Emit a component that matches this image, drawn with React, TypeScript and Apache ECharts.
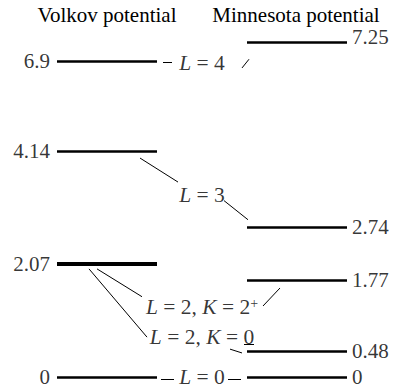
import React, { useEffect, useRef } from 'react';
import * as echarts from 'echarts';

// Energy levels (MeV) for each potential
const volkovLevels = [0, 2.07, 4.14, 6.9];
const volkovWidths = [2.5, 4, 2.5, 2.5];
const minnesotaLevels = [0, 0.48, 1.77, 2.74, 7.25];
const minnesotaWidths = [2.5, 2.5, 2.5, 2.5, 2.5];
const columnTitles = ['Volkov potential', 'Minnesota potential'];

// State labels placed between the two columns
const stateNames = [
  '{i|L} = 0',
  '{i|L} = 2, {i|K} = 0',
  '{i|L} = 2, {i|K} = 2{sup|+}',
  '{i|L} = 3',
  '{i|L} = 4',
];
const stateEnergies = [0, 0.74, 1.28, 3.33, 6.87];

// Thin connectors between levels and state labels: [x1, e1, x2, e2]
const connectors: number[][] = [
  [1.06, 6.89, 1.15, 6.89],
  [1.85, 6.78, 1.92, 6.94],
  [0.83, 4.01, 1.21, 3.57],
  [1.67, 3.23, 1.91, 2.88],
  [0.4, 1.98, 0.85, 1.47],
  [2.06, 1.3, 2.23, 1.63],
  [0.32, 1.98, 0.9, 0.73],
  [1.73, 0.51, 1.85, 0.44],
  [1.87, 0.6, 1.97, 0.6],
  [1.04, -0.05, 1.17, -0.05],
  [1.71, -0.05, 1.84, -0.05],
];

const LEFT_X = [0, 1];
const RIGHT_X = [1.9, 2.9];
const MID_X = 1.45;
const FONT = "'Liberation Serif', 'Times New Roman', serif";
const FS = 21;
const MID_FS = 21.5;

export default function App() {
  const ref = useRef<HTMLDivElement>(null);

  useEffect(() => {
    document.body.style.margin = '0';
    if (!ref.current) return;
    const chart = echarts.init(ref.current, undefined, { renderer: 'svg' });

    const levelData = [
      ...volkovLevels.map((v, i) => ({
        coords: [[LEFT_X[0], v], [LEFT_X[1], v]],
        lineStyle: { width: volkovWidths[i] },
      })),
      ...minnesotaLevels.map((v, i) => ({
        coords: [[RIGHT_X[0], v], [RIGHT_X[1], v]],
        lineStyle: { width: minnesotaWidths[i] },
      })),
    ];

    const titleText = (text: string, x: number) => ({
      type: 'text',
      x,
      y: 15,
      style: {
        text,
        fontSize: FS,
        fontFamily: FONT,
        fill: '#000',
        align: 'center',
        verticalAlign: 'middle',
        textAlign: 'center',
        textVerticalAlign: 'middle',
      },
    });

    chart.setOption({
      animation: false,
      backgroundColor: '#ffffff',
      textStyle: { fontFamily: FONT },
      grid: { left: 57, right: 46, top: 23.2, bottom: 4.1 },
      xAxis: {
        type: 'value',
        min: 0,
        max: 2.9,
        show: false,
      },
      yAxis: {
        type: 'value',
        min: -0.2,
        max: 7.6,
        show: false,
        splitLine: { show: false },
        breaks: [{ start: 5, end: 6.12, gap: 0 }],
        breakArea: {
          show: false,
          itemStyle: { opacity: 0, borderWidth: 0 },
          zigzagAmplitude: 0,
        },
      },
      graphic: [titleText(columnTitles[0], 107), titleText(columnTitles[1], 296)],
      series: [
        {
          type: 'lines',
          coordinateSystem: 'cartesian2d',
          silent: true,
          lineStyle: { color: '#000', opacity: 1, width: 2.5, cap: 'butt' },
          data: levelData,
        },
        {
          type: 'lines',
          coordinateSystem: 'cartesian2d',
          silent: true,
          lineStyle: { color: '#000', opacity: 1, width: 1 },
          data: connectors.map((c) => ({ coords: [[c[0], c[1]], [c[2], c[3]]] })),
        },
        {
          type: 'scatter',
          symbolSize: 0,
          silent: true,
          clip: false,
          label: {
            show: true,
            position: 'left',
            distance: 7,
            color: '#000',
            fontSize: FS,
            fontFamily: FONT,
            formatter: (p: any) => String(p.value[1]),
          },
          data: volkovLevels.map((v) => [LEFT_X[0], v]),
        },
        {
          type: 'scatter',
          symbolSize: 0,
          silent: true,
          clip: false,
          label: {
            show: true,
            position: 'right',
            distance: 5,
            color: '#000',
            fontSize: FS,
            fontFamily: FONT,
            formatter: (p: any) => String(p.value[1]),
          },
          data: minnesotaLevels.map((v) => ({
            value: [RIGHT_X[1], v],
            label: v > 7 ? { offset: [0, -5] } : undefined,
          })),
        },
        {
          type: 'scatter',
          symbolSize: 0,
          silent: true,
          clip: false,
          label: {
            show: true,
            position: 'inside',
            color: '#000',
            fontSize: MID_FS,
            fontFamily: FONT,
            formatter: (p: any) => stateNames[p.dataIndex],
            rich: {
              i: { fontStyle: 'italic', fontSize: MID_FS, fontFamily: FONT, color: '#000' },
              sup: { fontSize: 14, fontFamily: FONT, color: '#000', verticalAlign: 'top', padding: [0, 0, 8, 0] },
            },
          },
          data: stateEnergies.map((e) => [MID_X, e]),
        },
      ],
    });

    return () => chart.dispose();
  }, []);

  return <div ref={ref} style={{ width: 393, height: 392 }} />;
}
